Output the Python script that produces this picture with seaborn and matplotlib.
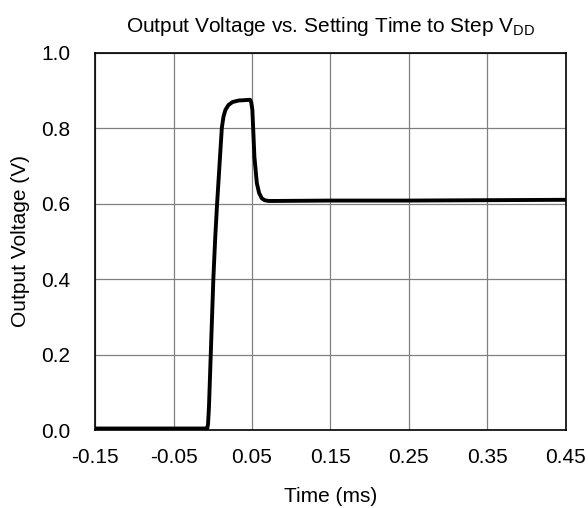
import matplotlib
matplotlib.use("Agg")
import matplotlib.pyplot as plt
import seaborn as sns
import pandas as pd

time_ms = [-0.15, -0.10, -0.05, -0.010, -0.0072, -0.0062, -0.0050, -0.0027, 0.0006,
           0.0030, 0.0054, 0.0084, 0.0114, 0.0135, 0.0160, 0.0198, 0.025, 0.0326,
           0.040, 0.0475, 0.0490, 0.0504, 0.0530, 0.0561, 0.0590, 0.0624, 0.0660,
           0.0709, 0.080, 0.15, 0.25, 0.35, 0.45]
voltage_v = [0.004, 0.004, 0.004, 0.004, 0.004, 0.015, 0.060, 0.20, 0.40,
             0.51, 0.60, 0.70, 0.80, 0.830, 0.848, 0.861, 0.869, 0.873,
             0.874, 0.875, 0.868, 0.848, 0.724, 0.654, 0.628, 0.614, 0.609,
             0.607, 0.607, 0.608, 0.608, 0.609, 0.610]

xticks = [-0.15, -0.05, 0.05, 0.15, 0.25, 0.35, 0.45]
xticklabels = ["-0.15", "-0.05", "0.05", "0.15", "0.25", "0.35", "0.45"]
yticks = [0.0, 0.2, 0.4, 0.6, 0.8, 1.0]
yticklabels = ["0.0", "0.2", "0.4", "0.6", "0.8", "1.0"]

df = pd.DataFrame({"t": time_ms, "v": voltage_v})

sns.set_theme(style="white")
plt.rcParams["font.family"] = ["Liberation Sans", "DejaVu Sans"]
plt.rcParams["mathtext.fontset"] = "custom"
plt.rcParams["mathtext.rm"] = "Liberation Sans"

fig = plt.figure(figsize=(5.88, 5.08), dpi=100)
ax = fig.add_axes([0.1621, 0.1535, 0.7997, 0.7429])

sns.lineplot(data=df, x="t", y="v", sort=False, estimator=None,
             color="black", linewidth=2.8, ax=ax)
for ln in ax.lines:
    ln.set_solid_joinstyle("round")
    ln.set_solid_capstyle("round")

ax.set_xlim(-0.15, 0.45)
ax.set_ylim(0, 1.0)
ax.set_xticks(xticks)
ax.set_xticklabels(xticklabels)
ax.set_yticks(yticks)
ax.set_yticklabels(yticklabels)
ax.grid(True, color="#808080", linewidth=0.9)
ax.set_axisbelow(True)
for s in ax.spines.values():
    s.set_color("black")
    s.set_linewidth(1.2)
ax.tick_params(axis="x", labelsize=15, length=0, pad=13, colors="black")
ax.tick_params(axis="y", labelsize=15, length=0, pad=18, colors="black")

ax.set_xlabel("Time (ms)", fontsize=15, labelpad=14, color="black")
ax.set_ylabel("Output Voltage (V)", fontsize=15, labelpad=8, color="black")
ax.set_title(r"Output Voltage vs. Setting Time to Step V$_{\mathregular{DD}}$",
             fontsize=15, pad=15, color="black")

fig.savefig("out.png", dpi=100, facecolor="white")
